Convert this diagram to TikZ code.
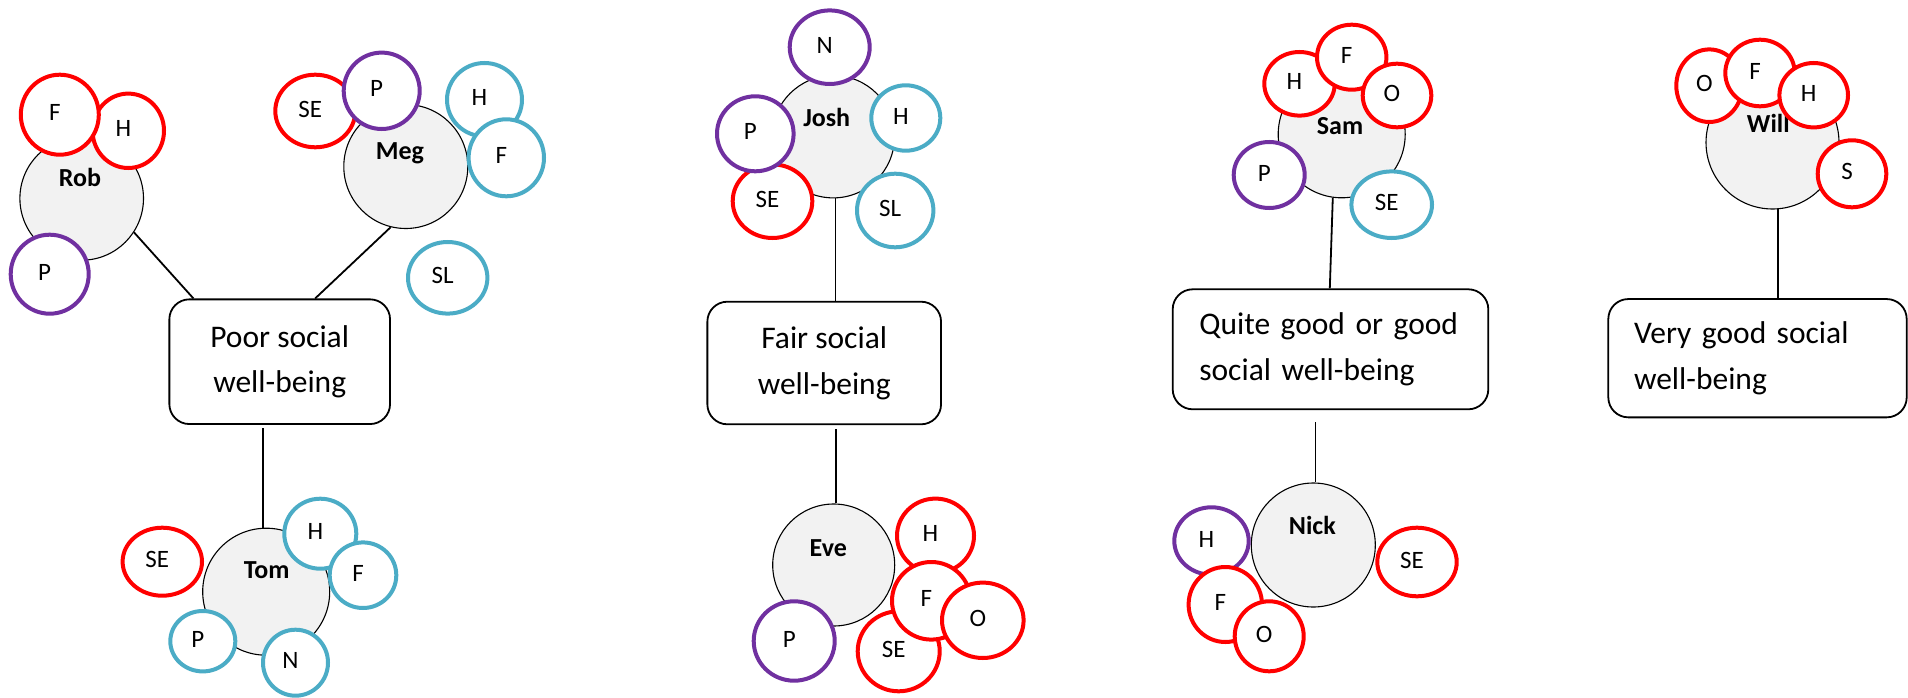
\documentclass[tikz,border=0pt]{standalone}
\usepackage{fontspec}
\setmainfont{Carlito}
\usetikzlibrary{shapes.geometric,calc}
\definecolor{ringred}{HTML}{FF0000}
\definecolor{ringpurple}{HTML}{7030A0}
\definecolor{ringcyan}{HTML}{4BACC6}
\definecolor{personfill}{HTML}{F2F2F2}

\begin{document}
\begin{tikzpicture}[x=1pt,y=-1pt,
  person/.style={circle, draw, line width=1.1pt, fill=personfill, inner sep=0pt, minimum size=#1},
  pname/.style={font=\fontsize{26}{30}\selectfont\bfseries, text height=0.7em, text depth=0.2em, inner sep=0pt},
  ring/.style={ellipse, draw=#1, line width=4pt, fill=white, inner sep=0pt,
    font=\fontsize{25}{30}\selectfont, text depth=4pt, execute at end node={\hspace*{10pt}}},
  sz/.style 2 args={minimum width=#1pt, minimum height=#2pt},
  levelbox/.style={draw, line width=1.8pt, rounded corners=20pt, fill=white,
    font=\fontsize{31.5}{45.7}\selectfont, inner sep=0pt},
  link/.style={line width=1.8pt}
]
\useasboundingbox (0,0) rectangle (1908,698);

% people
\node[person=123.6pt, label={[pname, xshift=-1.7pt, yshift=14pt]center:Rob}]  (rob)  at (81.7,198.4)  {};
\node[person=124pt,   label={[pname, xshift=-5.8pt, yshift=10pt]center:Meg}]  (meg)  at (405.8,166.5) {};
\node[person=127pt,   label={[pname, xshift=0.5pt,  yshift=16pt]center:Tom}]  (tom)  at (266.2,591.7) {};
\node[person=122.4pt, label={[pname, xshift=-6.6pt, yshift=13pt]center:Josh}] (josh) at (833.3,136.7) {};
\node[person=122pt,   label={[pname, xshift=-5.4pt, yshift=11pt]center:Eve}]  (eve)  at (833.7,565)   {};
\node[person=127pt,   label={[pname, xshift=-1.7pt, yshift=2pt]center:Sam}]   (sam)  at (1341.7,134.3) {};
\node[person=124pt,   label={[pname, xshift=-1pt,   yshift=13pt]center:Nick}] (nick) at (1313.3,545)  {};
\node[person=133pt,   label={[pname, xshift=-4.2pt, yshift=13pt]center:Will}] (will) at (1772.5,142.5) {};

% well-being levels
\node[levelbox, minimum width=220.7pt, minimum height=124.7pt, align=center] (poor) at (279.7,361.7) {Poor social\\well-being};
\node[levelbox, minimum width=233.7pt, minimum height=122.6pt, align=center] (fair) at (824.2,363) {Fair social\\well-being};
\node[levelbox, minimum width=315.6pt, minimum height=120pt, align=left, text width=262.4pt] (quite) at (1330.5,349.3) {Quite good or good\\social well-being};
\node[levelbox, minimum width=298.4pt, minimum height=118.3pt, align=left, text width=247pt] (very) at (1757.5,358.2) {Very good social\\well-being};

% connectors
\draw[link] (rob.-33) -- ($(poor.north west)+(25,0)$);
\draw[link] (meg.256) -- ($(poor.north west)+(146.7,0)$);
\draw[link] (tom.93) -- ($(tom.93 |- poor.south)+(0,3.5)$);
\draw[link] (josh.-88) -- (josh.-88 |- fair.north);
\draw[link] (eve.88) -- ($(eve.88 |- fair.south)+(0,3.4)$);
\draw[link] (sam.-98) -- ($(quite.north west)+(158,0)$);
\draw[link] (nick.88) -- ($(nick.88 |- quite.south)+(0,11.4)$);
\draw[link] (will.-85) -- (will.-85 |- very.north);

% Rob
\node[ring=ringred,    sz={71.4}{74.4}] (robH) at (128.3,130.8) {H};
\node[ring=ringred,    sz={78}{80}]     (robF) at (59.8,114.7)  {F};
\node[ring=ringpurple, sz={78}{79}]     (robP) at (49.7,274.2)  {P};
% Meg
\node[ring=ringred,    sz={80}{72.6}]   (megSE) at (315.3,111)  {SE};
\node[ring=ringpurple, sz={76}{76.4}]   (megP)  at (381.7,90.8) {P};
\node[ring=ringcyan,   sz={75}{73.4}]   (megH)  at (484.5,99.7) {H};
\node[ring=ringcyan,   sz={75.4}{77}]   (megF)  at (506.3,157.8) {F};
\node[ring=ringcyan,   sz={79.4}{71.6}] (megSL) at (447.7,277.8) {SL};
% Tom
\node[ring=ringred,    sz={79.4}{68}]   (tomSE) at (162.3,561.7) {SE};
\node[ring=ringcyan,   sz={72}{70}]     (tomH)  at (320.3,533.7) {H};
\node[ring=ringcyan,   sz={66.6}{65.6}] (tomF)  at (363,575.2)   {F};
\node[ring=ringcyan,   sz={65}{60.4}]   (tomP)  at (202.8,641.2) {P};
\node[ring=ringcyan,   sz={65}{66}]     (tomN)  at (295.5,662.7) {N};
% Josh
\node[ring=ringpurple, sz={80}{73.6}]   (joshN)  at (829.7,47.2)  {N};
\node[ring=ringred,    sz={79.6}{73.6}] (joshSE) at (772.5,201.2) {SE};
\node[ring=ringpurple, sz={76.6}{75}]   (joshP)  at (755.3,133.8) {P};
\node[ring=ringcyan,   sz={69}{65.4}]   (joshH)  at (905.8,118)   {H};
\node[ring=ringcyan,   sz={76.4}{73.6}] (joshSL) at (895.2,210.5) {SL};
% Eve
\node[ring=ringred,    sz={77}{74.4}]   (eveH)  at (935.5,535.8) {H};
\node[ring=ringred,    sz={82}{80}]     (eveSE) at (898.7,651.3) {SE};
\node[ring=ringred,    sz={78.6}{77.6}] (eveF)  at (931.3,600.8) {F};
\node[ring=ringred,    sz={81.6}{75.4}] (eveO)  at (982.8,620.3) {O};
\node[ring=ringpurple, sz={81}{79.4}]   (eveP)  at (794.2,641)   {P};
% Sam
\node[ring=ringred,    sz={70.4}{63.6}] (samH)  at (1299.5,83.8) {H};
\node[ring=ringred,    sz={69.4}{65}]   (samF)  at (1351.7,57.2) {F};
\node[ring=ringred,    sz={68.6}{63.6}] (samO)  at (1397,95.5)   {O};
\node[ring=ringpurple, sz={71}{66}]     (samP)  at (1269.2,175)  {P};
\node[ring=ringcyan,   sz={80.6}{66.6}] (samSE) at (1391.7,204.7) {SE};
% Nick
\node[ring=ringpurple, sz={74.4}{67.4}] (nickH)  at (1211.5,541)   {H};
\node[ring=ringred,    sz={73.4}{75}]   (nickF)  at (1225.3,604.5) {F};
\node[ring=ringred,    sz={69}{70}]     (nickO)  at (1269.2,636.3) {O};
\node[ring=ringred,    sz={79.4}{68.6}] (nickSE) at (1417,562)     {SE};
% Will
\node[ring=ringred,    sz={66}{72.6}]   (willO) at (1709.3,85.7) {O};
\node[ring=ringred,    sz={69.4}{66.6}] (willF) at (1760,73)     {F};
\node[ring=ringred,    sz={68.6}{64.4}] (willH) at (1813.7,95.2) {H};
\node[ring=ringred,    sz={68.6}{67}]   (willS) at (1852,173.8)  {S};
\end{tikzpicture}
\end{document}
